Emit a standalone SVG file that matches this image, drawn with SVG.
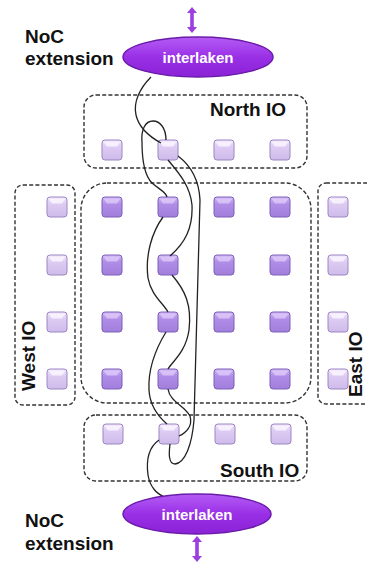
<svg xmlns="http://www.w3.org/2000/svg" xmlns:xlink="http://www.w3.org/1999/xlink" width="367" height="563" viewBox="0 0 367 563">
<style>
.box{fill:none;stroke:#333;stroke-width:1.4;stroke-dasharray:4 2.2}
.lbl{font-family:"Liberation Sans",Arial,Helvetica,sans-serif;font-weight:bold;font-size:19px;fill:#111}
.ell{fill:url(#gE);stroke:#6a1ca8;stroke-width:1.5}
.etx{font-family:"Liberation Sans",Arial,Helvetica,sans-serif;font-weight:bold;font-size:15px;fill:#fff;text-anchor:middle}
.wire{fill:none;stroke:#222;stroke-width:1.3}
.arr{fill:#9b3fe0}
</style>
<defs>
<linearGradient id="gM" x1="0" y1="0" x2="0" y2="1">
<stop offset="0" stop-color="#d2b6f6"/><stop offset="0.35" stop-color="#b08de6"/><stop offset="1" stop-color="#a07edb"/>
</linearGradient>
<linearGradient id="gI" x1="0" y1="0" x2="0" y2="1">
<stop offset="0" stop-color="#f1e6fb"/><stop offset="0.35" stop-color="#ddcbf2"/><stop offset="1" stop-color="#cfbbea"/>
</linearGradient>
<linearGradient id="gE" x1="0" y1="0" x2="0" y2="1">
<stop offset="0" stop-color="#b45cf5"/><stop offset="0.5" stop-color="#9a30e6"/><stop offset="1" stop-color="#8a22d6"/>
</linearGradient>
<g id="sqM">
<rect x="-10" y="-10" width="20" height="20" rx="3" fill="url(#gM)" stroke="#7d60b8" stroke-width="1"/>
<path d="M-8.5,-8.5 L8.5,-8.5 L5,-3.5 L-5,-3.5 Z" fill="#e0ccfa" opacity="0.75"/>
</g>
<g id="sqI">
<rect x="-10" y="-10" width="20" height="20" rx="3" fill="url(#gI)" stroke="#9c86c2" stroke-width="1"/>
<path d="M-8.5,-8.5 L8.5,-8.5 L5,-3.5 L-5,-3.5 Z" fill="#fbf6ff" opacity="0.8"/>
</g>
<path id="dblarrow" d="M0,-13 L5,-7 L1.8,-7 L1.8,7 L5,7 L0,13 L-5,7 L-1.8,7 L-1.8,-7 L-5,-7 Z"/>
</defs>

<g id="north-io">
<rect class="box" x="84" y="95" width="223" height="73" rx="12"/>
<text class="lbl" x="210" y="116">North IO</text>
<use id="n1" href="#sqI" x="112" y="150"/>
<use id="n2" href="#sqI" x="168" y="150"/>
<use id="n3" href="#sqI" x="224" y="150"/>
<use id="n4" href="#sqI" x="280" y="150"/>
</g>

<g id="west-io">
<rect class="box" x="15" y="185" width="60" height="220" rx="8"/>
<text class="lbl" transform="translate(35,391) rotate(-90)">West IO</text>
<use id="w1" href="#sqI" x="57" y="207"/>
<use id="w2" href="#sqI" x="57" y="265"/>
<use id="w3" href="#sqI" x="57" y="322"/>
<use id="w4" href="#sqI" x="57" y="379"/>
</g>

<g id="east-io">
<rect class="box" x="318" y="183" width="60" height="221" rx="8"/>
<text class="lbl" transform="translate(362,397) rotate(-90)">East IO</text>
<use id="e1" href="#sqI" x="338" y="207"/>
<use id="e2" href="#sqI" x="338" y="265"/>
<use id="e3" href="#sqI" x="338" y="322"/>
<use id="e4" href="#sqI" x="338" y="379"/>
</g>

<g id="core">
<rect class="box" x="81" y="183" width="230" height="220" rx="26"/>
<use id="c11" href="#sqM" x="112" y="207"/><use id="c12" href="#sqM" x="168" y="207"/><use id="c13" href="#sqM" x="224" y="207"/><use id="c14" href="#sqM" x="280" y="207"/>
<use id="c21" href="#sqM" x="112" y="265"/><use id="c22" href="#sqM" x="168" y="265"/><use id="c23" href="#sqM" x="224" y="265"/><use id="c24" href="#sqM" x="280" y="265"/>
<use id="c31" href="#sqM" x="112" y="322"/><use id="c32" href="#sqM" x="168" y="322"/><use id="c33" href="#sqM" x="224" y="322"/><use id="c34" href="#sqM" x="280" y="322"/>
<use id="c41" href="#sqM" x="112" y="379"/><use id="c42" href="#sqM" x="168" y="379"/><use id="c43" href="#sqM" x="224" y="379"/><use id="c44" href="#sqM" x="280" y="379"/>
</g>

<g id="south-io">
<rect class="box" x="84" y="415" width="223" height="66" rx="12"/>
<text class="lbl" x="220" y="477">South IO</text>
<use id="s1" href="#sqI" x="113" y="434"/>
<use id="s2" href="#sqI" x="169" y="434"/>
<use id="s3" href="#sqI" x="225" y="434"/>
<use id="s4" href="#sqI" x="281" y="434"/>
</g>

<g id="connectors">
<path class="wire" d="M151,77 C140,88 133,102 136,115 C139,128 150,137 161,143"/>
<path class="wire" d="M166,140 C166,128 160,121 153,121 C145,121 141,130 142,142 C142,160 144,175 152,183 C160,190 166,192 167,197"/>
<path class="wire" d="M168,160 C178,172 190,185 192,205 C193,228 185,243 170,256"/>
<path class="wire" d="M178,156 C190,165 199,180 200,200 L194,420 C192,445 185,463 175,464 C168,464 169,452 170,444"/>
<path class="wire" d="M163,217 C152,232 145,255 148,278 C151,295 163,303 168,312"/>
<path class="wire" d="M172,275 C185,290 192,305 189,330 C186,352 172,362 168,369"/>
<path class="wire" d="M166,332 C155,350 148,370 149,390 C150,408 160,418 167,424"/>
<path class="wire" d="M168,389 C170,402 184,405 190,416 C193,426 186,433 179,436"/>
<path class="wire" d="M159,440 C149,447 146,460 148,475 C150,487 157,494 163,496"/>
</g>

<g id="top-ext">
<text class="lbl" x="25" y="43">NoC</text>
<text class="lbl" x="25" y="65">extension</text>
<use class="arr" href="#dblarrow" x="192" y="20"/>
<ellipse class="ell" cx="198" cy="57" rx="75" ry="20"/>
<text class="etx" x="198" y="63">interlaken</text>
</g>

<g id="bottom-ext">
<text class="lbl" x="25" y="527">NoC</text>
<text class="lbl" x="25" y="550">extension</text>
<use class="arr" href="#dblarrow" x="197" y="549"/>
<ellipse class="ell" cx="197" cy="514" rx="74" ry="20"/>
<text class="etx" x="197" y="520">interlaken</text>
</g>
</svg>
